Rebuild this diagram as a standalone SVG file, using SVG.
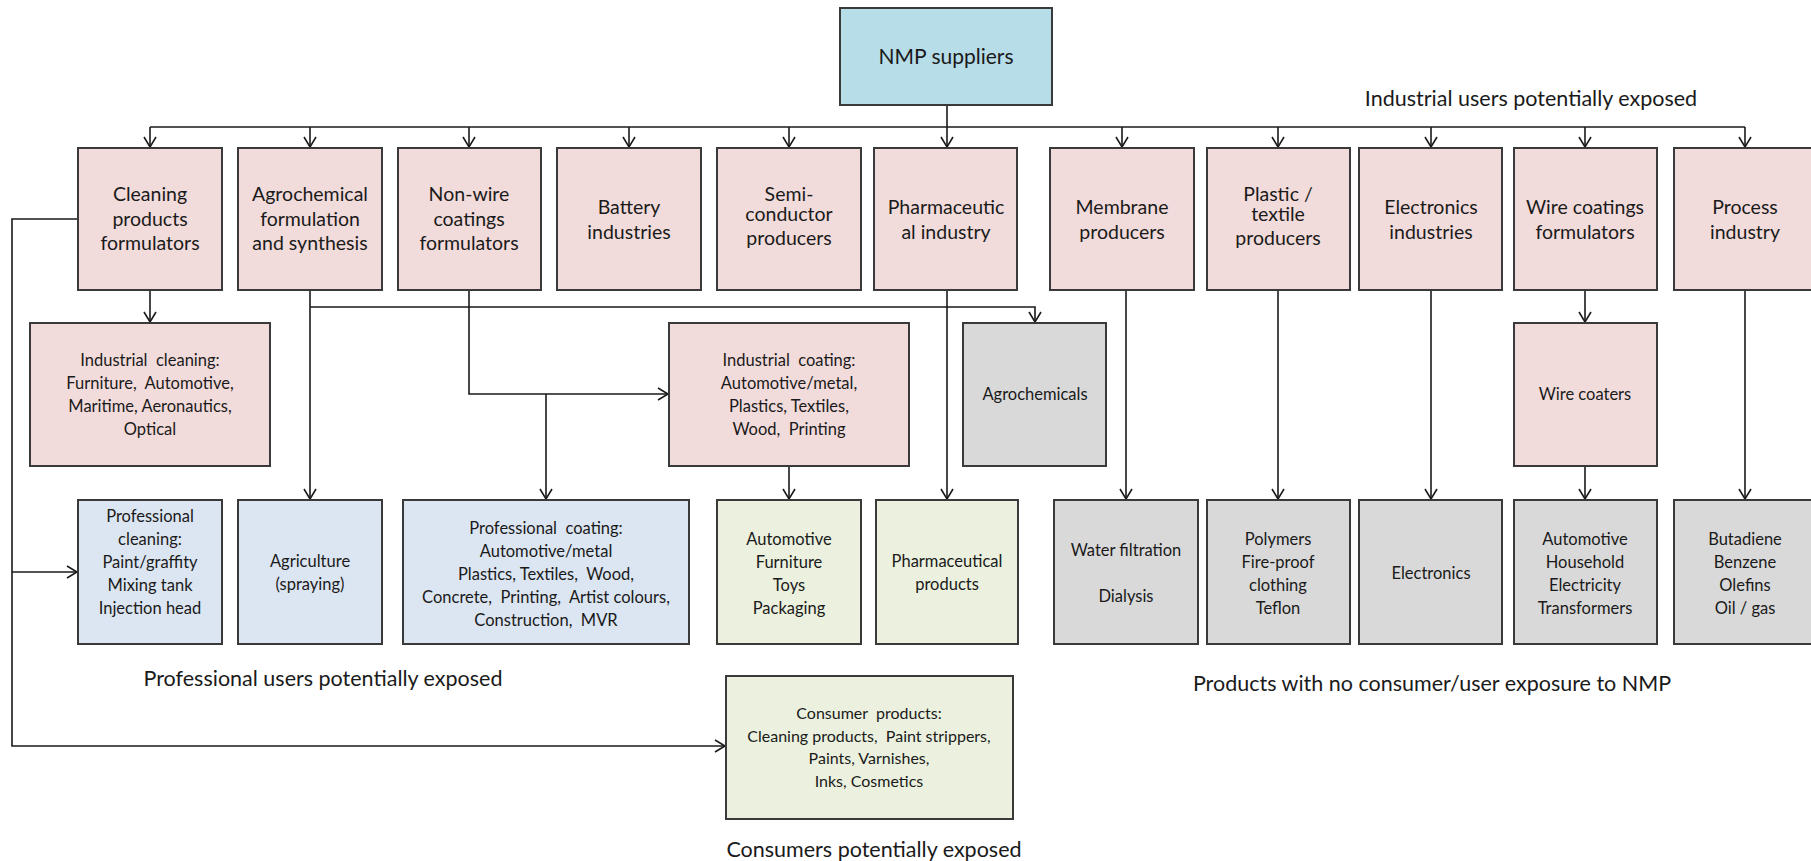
<svg xmlns="http://www.w3.org/2000/svg" width="1811" height="861" viewBox="0 0 1811 861">
<defs>
<style>
.box{stroke:#3a3a3a;stroke-width:2}
.pink{fill:#F2DCDB}
.blue{fill:#B7DDE8}
.lblue{fill:#DCE6F2}
.green{fill:#EBF1DE}
.grey{fill:#D9D9D9}
text{font-family:Lato,"Liberation Sans",sans-serif;fill:#1a1a1a;text-anchor:middle;white-space:pre}
.t1{font-size:19.5px}
.t2{font-size:16.5px}
.t3{font-size:16px}
.lab{font-size:21.5px}
.c{fill:none;stroke:#1a1a1a;stroke-width:1.6}
</style>
<marker id="ar" markerWidth="14" markerHeight="14" refX="11" refY="7" orient="auto" markerUnits="userSpaceOnUse">
<path d="M1,1 L11,7 L1,13" fill="none" stroke="#1a1a1a" stroke-width="1.6"/>
</marker>
</defs>
<rect width="1811" height="861" fill="#ffffff"/>

<g id="connectors">
<path class="c" d="M947,105 V127"/>
<path class="c" d="M150,127 H1745"/>
<path class="c" d="M150,127 V147" marker-end="url(#ar)"/>
<path class="c" d="M310,127 V147" marker-end="url(#ar)"/>
<path class="c" d="M469,127 V147" marker-end="url(#ar)"/>
<path class="c" d="M629,127 V147" marker-end="url(#ar)"/>
<path class="c" d="M789,127 V147" marker-end="url(#ar)"/>
<path class="c" d="M947,127 V147" marker-end="url(#ar)"/>
<path class="c" d="M1122,127 V147" marker-end="url(#ar)"/>
<path class="c" d="M1278,127 V147" marker-end="url(#ar)"/>
<path class="c" d="M1431,127 V147" marker-end="url(#ar)"/>
<path class="c" d="M1585,127 V147" marker-end="url(#ar)"/>
<path class="c" d="M1745,127 V147" marker-end="url(#ar)"/>

<path class="c" d="M150,290 V322" marker-end="url(#ar)"/>
<path class="c" d="M310,290 V499" marker-end="url(#ar)"/>
<path class="c" d="M310,307 H1035 V322" marker-end="url(#ar)"/>
<path class="c" d="M469,290 V394 H668" marker-end="url(#ar)"/>
<path class="c" d="M546,394 V499" marker-end="url(#ar)"/>
<path class="c" d="M789,465 V499" marker-end="url(#ar)"/>
<path class="c" d="M947,290 V499" marker-end="url(#ar)"/>
<path class="c" d="M1126,290 V499" marker-end="url(#ar)"/>
<path class="c" d="M1278,290 V499" marker-end="url(#ar)"/>
<path class="c" d="M1431,290 V499" marker-end="url(#ar)"/>
<path class="c" d="M1585,290 V322" marker-end="url(#ar)"/>
<path class="c" d="M1585,465 V499" marker-end="url(#ar)"/>
<path class="c" d="M1745,290 V499" marker-end="url(#ar)"/>

<path class="c" d="M78,219 H12 V746 H725" marker-end="url(#ar)"/>
<path class="c" d="M12,572 H77" marker-end="url(#ar)"/>
</g>

<g id="nmp">
<rect class="box blue" x="840" y="8" width="212" height="97"/>
<text x="946" y="64" style="font-size:21px">NMP suppliers</text>
</g>

<g id="cleaning-formulators">
<rect class="box pink" x="78" y="148" width="144" height="142"/>
<text class="t1" x="150" y="201">Cleaning</text>
<text class="t1" x="150" y="226">products</text>
<text class="t1" x="150" y="250">formulators</text>
</g>
<g id="agrochemical-formulation">
<rect class="box pink" x="238" y="148" width="144" height="142"/>
<text class="t1" x="310" y="201">Agrochemical</text>
<text class="t1" x="310" y="226">formulation</text>
<text class="t1" x="310" y="250">and synthesis</text>
</g>
<g id="nonwire-formulators">
<rect class="box pink" x="398" y="148" width="143" height="142"/>
<text class="t1" x="469" y="201">Non-wire</text>
<text class="t1" x="469" y="226">coatings</text>
<text class="t1" x="469" y="250">formulators</text>
</g>
<g id="battery">
<rect class="box pink" x="557" y="148" width="144" height="142"/>
<text class="t1" x="629" y="214">Battery</text>
<text class="t1" x="629" y="239">industries</text>
</g>
<g id="semiconductor">
<rect class="box pink" x="717" y="148" width="144" height="142"/>
<text class="t1" x="789" y="201">Semi-</text>
<text class="t1" x="789" y="221">conductor</text>
<text class="t1" x="789" y="245">producers</text>
</g>
<g id="pharma-industry">
<rect class="box pink" x="874" y="148" width="143" height="142"/>
<text class="t1" x="946" y="214">Pharmaceutic</text>
<text class="t1" x="946" y="239">al industry</text>
</g>
<g id="membrane">
<rect class="box pink" x="1050" y="148" width="144" height="142"/>
<text class="t1" x="1122" y="214">Membrane</text>
<text class="t1" x="1122" y="239">producers</text>
</g>
<g id="plastic-textile">
<rect class="box pink" x="1207" y="148" width="143" height="142"/>
<text class="t1" x="1278" y="201">Plastic /</text>
<text class="t1" x="1278" y="221">textile</text>
<text class="t1" x="1278" y="245">producers</text>
</g>
<g id="electronics-ind">
<rect class="box pink" x="1359" y="148" width="143" height="142"/>
<text class="t1" x="1431" y="214">Electronics</text>
<text class="t1" x="1431" y="239">industries</text>
</g>
<g id="wire-formulators">
<rect class="box pink" x="1514" y="148" width="143" height="142"/>
<text class="t1" x="1585" y="214">Wire coatings</text>
<text class="t1" x="1585" y="239">formulators</text>
</g>
<g id="process">
<rect class="box pink" x="1674" y="148" width="144" height="142"/>
<text class="t1" x="1745" y="214">Process</text>
<text class="t1" x="1745" y="239">industry</text>
</g>

<g id="industrial-cleaning">
<rect class="box pink" x="30" y="323" width="240" height="143"/>
<text class="t2" x="150" y="366">Industrial  cleaning:</text>
<text class="t2" x="150" y="389">Furniture,  Automotive,</text>
<text class="t2" x="150" y="412">Maritime, Aeronautics,</text>
<text class="t2" x="150" y="435">Optical</text>
</g>
<g id="industrial-coating">
<rect class="box pink" x="669" y="323" width="240" height="143"/>
<text class="t2" x="789" y="366">Industrial  coating:</text>
<text class="t2" x="789" y="389">Automotive/metal,</text>
<text class="t2" x="789" y="412">Plastics, Textiles,</text>
<text class="t2" x="789" y="435">Wood,  Printing</text>
</g>
<g id="agrochemicals">
<rect class="box grey" x="963" y="323" width="143" height="143"/>
<text class="t2" x="1035" y="400">Agrochemicals</text>
</g>
<g id="wire-coaters">
<rect class="box pink" x="1514" y="323" width="143" height="143"/>
<text class="t2" x="1585" y="400">Wire coaters</text>
</g>

<g id="professional-cleaning">
<rect class="box lblue" x="78" y="500" width="144" height="144"/>
<text class="t2" x="150" y="522">Professional</text>
<text class="t2" x="150" y="545">cleaning:</text>
<text class="t2" x="150" y="568">Paint/graffity</text>
<text class="t2" x="150" y="591">Mixing tank</text>
<text class="t2" x="150" y="614">Injection head</text>
</g>
<g id="agriculture">
<rect class="box lblue" x="238" y="500" width="144" height="144"/>
<text class="t2" x="310" y="567">Agriculture</text>
<text class="t2" x="310" y="590">(spraying)</text>
</g>
<g id="professional-coating">
<rect class="box lblue" x="403" y="500" width="286" height="144"/>
<text class="t2" x="546" y="534">Professional  coating:</text>
<text class="t2" x="546" y="557">Automotive/metal</text>
<text class="t2" x="546" y="580">Plastics, Textiles,  Wood,</text>
<text class="t2" x="546" y="603">Concrete,  Printing,  Artist colours,</text>
<text class="t2" x="546" y="626">Construction,  MVR</text>
</g>
<g id="automotive-products">
<rect class="box green" x="717" y="500" width="144" height="144"/>
<text class="t2" x="789" y="545">Automotive</text>
<text class="t2" x="789" y="568">Furniture</text>
<text class="t2" x="789" y="591">Toys</text>
<text class="t2" x="789" y="614">Packaging</text>
</g>
<g id="pharma-products">
<rect class="box green" x="876" y="500" width="142" height="144"/>
<text class="t2" x="947" y="567">Pharmaceutical</text>
<text class="t2" x="947" y="590">products</text>
</g>
<g id="water-filtration">
<rect class="box grey" x="1054" y="500" width="144" height="144"/>
<text class="t2" x="1126" y="556">Water filtration</text>
<text class="t2" x="1126" y="602">Dialysis</text>
</g>
<g id="polymers">
<rect class="box grey" x="1207" y="500" width="143" height="144"/>
<text class="t2" x="1278" y="545">Polymers</text>
<text class="t2" x="1278" y="568">Fire-proof</text>
<text class="t2" x="1278" y="591">clothing</text>
<text class="t2" x="1278" y="614">Teflon</text>
</g>
<g id="electronics">
<rect class="box grey" x="1359" y="500" width="143" height="144"/>
<text class="t2" x="1431" y="579">Electronics</text>
</g>
<g id="wire-products">
<rect class="box grey" x="1514" y="500" width="143" height="144"/>
<text class="t2" x="1585" y="545">Automotive</text>
<text class="t2" x="1585" y="568">Household</text>
<text class="t2" x="1585" y="591">Electricity</text>
<text class="t2" x="1585" y="614">Transformers</text>
</g>
<g id="process-products">
<rect class="box grey" x="1674" y="500" width="144" height="144"/>
<text class="t2" x="1745" y="545">Butadiene</text>
<text class="t2" x="1745" y="568">Benzene</text>
<text class="t2" x="1745" y="591">Olefins</text>
<text class="t2" x="1745" y="614">Oil / gas</text>
</g>

<g id="consumer-products">
<rect class="box green" x="726" y="676" width="287" height="143"/>
<text class="t3" x="869" y="719">Consumer  products:</text>
<text class="t3" x="869" y="742">Cleaning products,  Paint strippers,</text>
<text class="t3" x="869" y="764">Paints, Varnishes,</text>
<text class="t3" x="869" y="787">Inks, Cosmetics</text>
</g>

<g id="labels">
<text class="lab" x="1531" y="106">Industrial users potentially exposed</text>
<text class="lab" x="323" y="686">Professional users potentially exposed</text>
<text class="lab" x="1432" y="691">Products with no consumer/user exposure to NMP</text>
<text class="lab" x="874" y="857">Consumers potentially exposed</text>
</g>
</svg>
